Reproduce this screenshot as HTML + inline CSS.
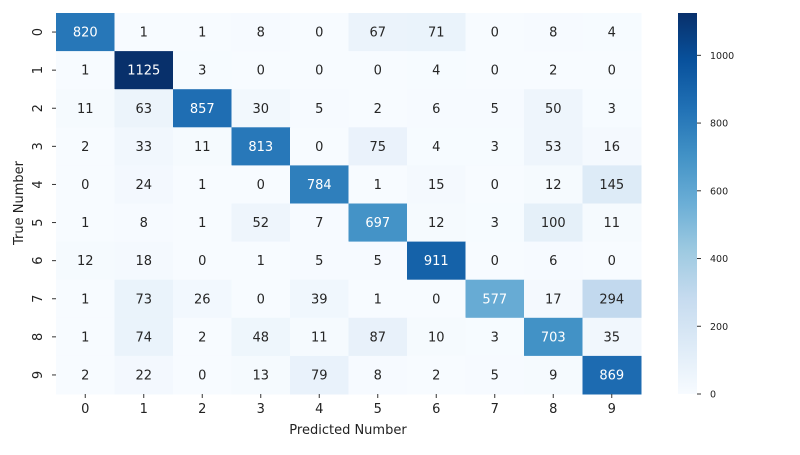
<!DOCTYPE html>
<html><head><meta charset="utf-8"><style>
body{margin:0;background:#fff;}
svg{font-family:"DejaVu Sans","Liberation Sans",sans-serif;}
</style></head><body>
<svg id="chart" width="800" height="450">
<defs><linearGradient id="cb" x1="0" y1="1" x2="0" y2="0">
<stop offset="0" stop-color="#f7fbff"/><stop offset="0.125" stop-color="#deebf7"/><stop offset="0.25" stop-color="#c6dbef"/><stop offset="0.375" stop-color="#9ecae1"/><stop offset="0.5" stop-color="#6baed6"/><stop offset="0.625" stop-color="#4292c6"/><stop offset="0.75" stop-color="#2171b5"/><stop offset="0.875" stop-color="#08519c"/><stop offset="1" stop-color="#08306b"/>
</linearGradient></defs>
<g id="cells"></g>
<g id="axes"></g>
<text x="348" y="434" font-size="13" text-anchor="middle" fill="#222">Predicted Number</text>
<text transform="translate(23,203) rotate(-90)" font-size="13" text-anchor="middle" fill="#222">True Number</text>
<rect x="678" y="13" width="19" height="381" fill="url(#cb)"/>
<g id="cbticks"></g>
</svg>
<script>
const rowLabels=["0","1","2","3","4","5","6","7","8","9"];
const colLabels=["0","1","2","3","4","5","6","7","8","9"];
const matrix=[
[820,1,1,8,0,67,71,0,8,4],
[1,1125,3,0,0,0,4,0,2,0],
[11,63,857,30,5,2,6,5,50,3],
[2,33,11,813,0,75,4,3,53,16],
[0,24,1,0,784,1,15,0,12,145],
[1,8,1,52,7,697,12,3,100,11],
[12,18,0,1,5,5,911,0,6,0],
[1,73,26,0,39,1,0,577,17,294],
[1,74,2,48,11,87,10,3,703,35],
[2,22,0,13,79,8,2,5,9,869]];
const cbTicks=[0,200,400,600,800,1000];
const NS="http://www.w3.org/2000/svg";
const L=56,R=641,T=13,B=394;
const vmin=0,vmax=Math.max(...matrix.flat());
const stops=[[247,251,255],[222,235,247],[198,219,239],[158,202,225],[107,174,214],[66,146,198],[33,113,181],[8,81,156],[8,48,107]];
function color(v){let t=(v-vmin)/(vmax-vmin)*8;let i=Math.min(7,Math.floor(t));let f=t-i;const a=stops[i],b=stops[i+1];
return `rgb(${a.map((c,k)=>Math.round(c+(b[k]-c)*f)).join(",")})`;}
function xPos(j){return L+(R-L)/colLabels.length*j;}
function yPos(i){return T+(B-T)/rowLabels.length*i;}
const cw=(R-L)/colLabels.length,ch=(B-T)/rowLabels.length;
function mk(tag,attrs,parent){const e=document.createElementNS(NS,tag);for(const k in attrs)e.setAttribute(k,attrs[k]);parent.appendChild(e);return e;}
const cells=document.getElementById("cells"),axes=document.getElementById("axes");
matrix.forEach((row,i)=>row.forEach((v,j)=>{
 const r=mk("rect",{x:xPos(j),y:yPos(i),width:cw+0.5,height:ch+0.5,fill:color(v)},cells);
 
 
 const t=mk("text",{x:xPos(j)+cw/2,y:yPos(i)+ch/2+4.5,"font-size":13,"text-anchor":"middle",fill:(v-vmin)/(vmax-vmin)>0.45?"#fff":"#262626"},cells);
 t.textContent=v;
 
 
}));
colLabels.forEach((l,j)=>{const x=xPos(j)+cw/2;
 mk("line",{x1:x,x2:x,y1:B,y2:B+4,stroke:"#333"},axes);
 const t=mk("text",{x:x,y:B+19,"font-size":13,"text-anchor":"middle",fill:"#222"},axes);t.textContent=l;
 
 });
rowLabels.forEach((l,i)=>{const y=yPos(i)+ch/2;
 mk("line",{x1:L-4,x2:L,y1:y,y2:y,stroke:"#333"},axes);
 const t=mk("text",{transform:`translate(${L-14},${y}) rotate(-90)`,"font-size":13,"text-anchor":"middle",fill:"#222"},axes);t.textContent=l;
 
 });
const cbt=document.getElementById("cbticks");
cbTicks.forEach(v=>{const y=B-(v-vmin)/(vmax-vmin)*(B-T);
 mk("line",{x1:697,x2:701,y1:y,y2:y,stroke:"#333"},cbt);
 const t=mk("text",{x:710,y:y+3.5,"font-size":9.5,fill:"#222"},cbt);t.textContent=v;
 
 });
</script>
</body></html>
